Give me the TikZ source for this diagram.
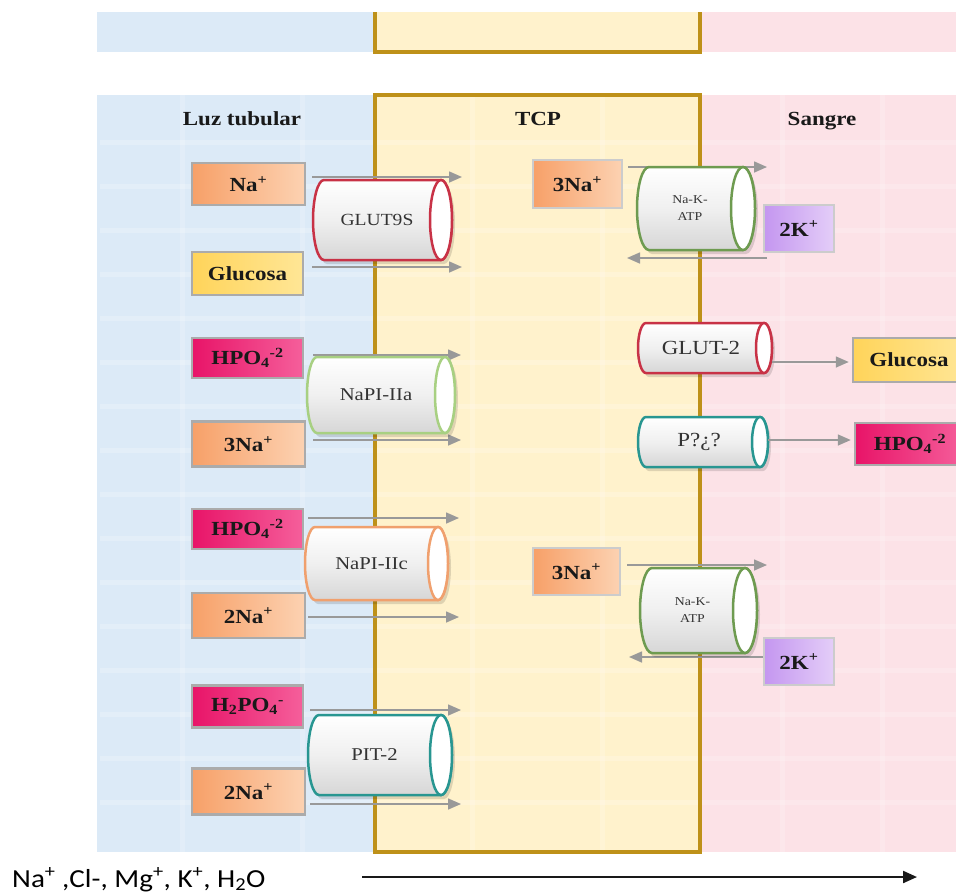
\documentclass[tikz,border=0pt]{standalone}
\usepackage{fontspec}
\setmainfont{Liberation Serif}[FakeStretch=1.15]
\newfontfamily\calibfont{Carlito}[FakeStretch=1.12]
\usetikzlibrary{arrows.meta}
\definecolor{bluebg}{RGB}{220,234,247}
\definecolor{yelbg}{RGB}{255,242,204}
\definecolor{pinkbg}{RGB}{252,226,231}
\definecolor{gold}{RGB}{190,145,25}
\definecolor{orangeL}{RGB}{247,160,104}
\definecolor{orangeR}{RGB}{252,210,178}
\definecolor{yellowL}{RGB}{255,212,90}
\definecolor{yellowR}{RGB}{255,230,150}
\definecolor{pinkL}{RGB}{232,20,104}
\definecolor{pinkR}{RGB}{245,95,155}
\definecolor{purpleL}{RGB}{196,150,240}
\definecolor{purpleR}{RGB}{228,206,248}
\definecolor{cred}{RGB}{200,50,70}
\definecolor{clgreen}{RGB}{168,208,130}
\definecolor{corange}{RGB}{240,160,110}
\definecolor{cteal}{RGB}{40,150,145}
\definecolor{cgreen}{RGB}{110,155,80}
\tikzset{
  ion/.style={rectangle, draw=black!33, line width=2.5pt, inner sep=0pt,
    font=\bfseries\fontsize{20}{22}\selectfont, text=black!90},
  naion/.style={ion, left color=orangeL, right color=orangeR},
  gluion/.style={ion, left color=yellowL, right color=yellowR},
  phion/.style={ion, left color=pinkL, right color=pinkR},
  kion/.style={ion, left color=purpleL, right color=purpleR},
  header/.style={font=\bfseries\fontsize{20}{22}\selectfont, text=black!90, inner sep=0pt, anchor=base},
  flow/.style={draw=black!40, line width=1.6pt, -{Triangle[length=13pt,width=11pt,fill=black!40]}},
  cyltext/.style={inner sep=0pt, align=center, text=black!80},
}
% #1 name, #2 xL, #3 yT, #4 xR, #5 yB, #6 rx, #7 colour, #8 font, #9 text
\newcommand{\drawcyl}[9]{%
  \pgfmathsetmacro\cyry{(#5-#3)/2}%
  \pgfmathsetmacro\cycy{(#5+#3)/2}%
  \pgfmathsetmacro\cyxa{#2+#6}%
  \pgfmathsetmacro\cyxb{#4-#6}%
  \pgfmathsetmacro\cytx{(#2+#4-#6)/2}%
  \begin{scope}[shift={(3,4)}]
    \fill[black, opacity=0.13] (\cyxa,#3) -- (\cyxb,#3)
      arc[start angle=-90, end angle=90, x radius=#6, y radius=\cyry]
      -- (\cyxa,#5) arc[start angle=90, end angle=270, x radius=#6, y radius=\cyry] -- cycle;
  \end{scope}
  \path[draw=#7, line width=2.5pt, top color=white, bottom color=black!16, middle color=black!6]
    (\cyxa,#3) -- (\cyxb,#3)
    arc[start angle=-90, end angle=90, x radius=#6, y radius=\cyry]
    -- (\cyxa,#5) arc[start angle=90, end angle=270, x radius=#6, y radius=\cyry] -- cycle;
  \path[draw=#7, line width=2.5pt, fill=white] (\cyxb,\cycy) ellipse[x radius=#6, y radius=\cyry];
  \node[cyltext, font=#8] (#1) at (\cytx,\cycy) {#9};
}
\begin{document}
\begin{tikzpicture}[x=1pt,y=-1pt]
\clip (0,0) rectangle (956,895);
\fill[white] (0,0) rectangle (956,895);
% top strip
\fill[bluebg] (97,12) rectangle (375,52);
\fill[yelbg] (375,12) rectangle (700,52);
\fill[pinkbg] (700,12) rectangle (956,52);
\draw[gold, line width=4pt] (375,12) -- (375,52) -- (700,52) -- (700,12);
% main columns
\fill[bluebg] (97,95) rectangle (375,852);
\fill[yelbg] (375,95) rectangle (700,852);
\fill[pinkbg] (700,95) rectangle (956,852);
\foreach \yy in {140,184,...,840} {\fill[white, opacity=0.2] (100,\yy) rectangle (956,\yy+5);}
\foreach \xx in {180,300,470,600,780,880} {\fill[white, opacity=0.18] (\xx,95) rectangle (\xx+5,852);}
\draw[gold, line width=4pt] (375,95) rectangle (700,852);

% headers
\node[header] (hluz) at (242,125) {Luz tubular};
\node[header] (htcp) at (538,125) {TCP};
\node[header] (hsan) at (822,125) {Sangre};

% flow arrows (behind transporters)
\coordinate (f1a) at (312,177); \coordinate (f1b) at (462,177);
\coordinate (f2a) at (312,267); \coordinate (f2b) at (462,267);
\coordinate (f3a) at (313,355); \coordinate (f3b) at (461,355);
\coordinate (f4a) at (313,440); \coordinate (f4b) at (461,440);
\coordinate (f5a) at (308,518); \coordinate (f5b) at (459,518);
\coordinate (f6a) at (308,617); \coordinate (f6b) at (459,617);
\coordinate (f7a) at (310,710); \coordinate (f7b) at (461,710);
\coordinate (f8a) at (310,804); \coordinate (f8b) at (461,804);
\coordinate (k1a) at (628,167); \coordinate (k1b) at (767,167);
\coordinate (k2a) at (767,258); \coordinate (k2b) at (627,258);
\coordinate (k3a) at (627,565); \coordinate (k3b) at (767,565);
\coordinate (k4a) at (767,657); \coordinate (k4b) at (629,657);
\coordinate (g2a) at (772,362);
\coordinate (p2a) at (768,440);
\foreach \s/\e in {f1a/f1b,f2a/f2b,f3a/f3b,f4a/f4b,f5a/f5b,f6a/f6b,f7a/f7b,f8a/f8b,k1a/k1b,k2a/k2b,k3a/k3b,k4a/k4b}
  {\draw[flow] (\s) -- (\e);}

% left ions
\node[naion, minimum width=113pt, minimum height=42pt] (na1) at (248.5,184) {Na\textsuperscript{+}};
\node[gluion, minimum width=111pt, minimum height=43pt] (glu1) at (247.5,273.5) {Glucosa};
\node[phion, minimum width=111pt, minimum height=40pt] (hpo1) at (247.5,358) {HPO\textsubscript{4}\textsuperscript{-2}};
\node[naion, minimum width=113pt, minimum height=45pt] (na2) at (248.5,444) {3Na\textsuperscript{+}};
\node[phion, minimum width=111pt, minimum height=40pt] (hpo2) at (247.5,529) {HPO\textsubscript{4}\textsuperscript{-2}};
\node[naion, minimum width=113pt, minimum height=45pt] (na3) at (248.5,615.5) {2Na\textsuperscript{+}};
\node[phion, minimum width=111pt, minimum height=42pt] (h2po) at (247.5,706.5) {H\textsubscript{2}PO\textsubscript{4}\textsuperscript{-}};
\node[naion, minimum width=113pt, minimum height=46pt] (na4) at (248.5,791.5) {2Na\textsuperscript{+}};

% TCP ions
\node[naion, draw=black!20, minimum width=89pt, minimum height=48pt] (na5) at (577.5,184) {3Na\textsuperscript{+}};
\node[naion, draw=black!20, minimum width=87pt, minimum height=47pt] (na6) at (576.5,571.5) {3Na\textsuperscript{+}};

% blood side ions
\node[kion, draw=black!20, minimum width=70pt, minimum height=47pt] (k1) at (799,228.5) {2K\textsuperscript{+}};
\node[kion, draw=black!20, minimum width=70pt, minimum height=47pt] (k2) at (799,661.5) {2K\textsuperscript{+}};
\node[gluion, minimum width=112pt, minimum height=44pt] (glu2) at (909,360) {Glucosa};
\node[phion, minimum width=110pt, minimum height=42pt] (hpo3) at (910,444) {HPO\textsubscript{4}\textsuperscript{-2}};

% transporters
\drawcyl{glut9s}{313}{180}{452}{260}{11}{cred}{\fontsize{17}{20}\selectfont}{GLUT9S}
\drawcyl{napiia}{307}{357}{455}{433}{10}{clgreen}{\fontsize{18}{20}\selectfont}{NaPI-IIa}
\drawcyl{napiic}{305}{527}{448}{600}{10}{corange}{\fontsize{18}{20}\selectfont}{NaPI-IIc}
\drawcyl{pit2}{308}{715}{452}{795}{11}{cteal}{\fontsize{18}{20}\selectfont}{PIT-2}
\drawcyl{nak1}{637}{167}{755}{250}{12}{cgreen}{\fontsize{12}{17}\selectfont}{Na-K-\\ATP}
\drawcyl{glut2}{638}{323}{772}{373}{8}{cred}{\fontsize{20}{22}\selectfont}{GLUT-2}
\drawcyl{ptr}{638}{417}{768}{467}{8}{cteal}{\fontsize{20}{22}\selectfont}{P?¿?}
\drawcyl{nak2}{640}{568}{757}{653}{12}{cgreen}{\fontsize{12}{17}\selectfont}{Na-K-\\ATP}

% exits to blood
\draw[flow] (g2a) -- ([xshift=-3pt]glu2.west |- g2a);
\draw[flow] (p2a) -- ([xshift=-3pt]hpo3.west |- p2a);

% bottom
\node[anchor=base west, inner sep=0pt, text=black, font=\calibfont\fontsize{26}{30}\selectfont] (ions) at (12,887)
  {Na\textsuperscript{+} ,Cl-, Mg\textsuperscript{+}, K\textsuperscript{+}, H\textsubscript{2}O};
\coordinate (bs) at (362,877);
\coordinate (be) at (917,877);
\draw[line width=2.2pt, black!90, -{Triangle[length=14pt,width=12pt]}] (bs) -- (be);
\end{tikzpicture}
\end{document}
